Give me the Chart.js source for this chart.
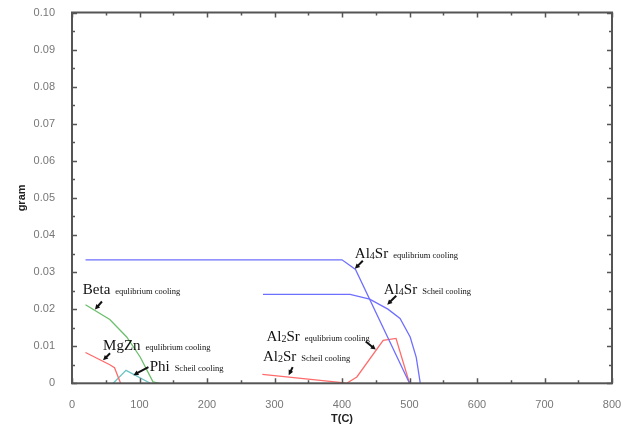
<!DOCTYPE html>
<html>
<head>
<meta charset="utf-8">
<script src="https://cdn.jsdelivr.net/npm/chart.js@4/dist/chart.umd.min.js"></script>
<style>
  html,body{margin:0;padding:0;background:#fff;}
  canvas{display:block;}
</style>
</head>
<body>
<canvas id="chart" width="623" height="432"></canvas>
<script>
// phase amounts (gram) against temperature T(C)
const al4srEqT = [20, 400, 420, 500];
const al4srEqG = [0.0333, 0.0333, 0.0307, 0];
const al4srScT = [283, 412, 441, 468, 486, 501, 510, 516];
const al4srScG = [0.0240, 0.0240, 0.0227, 0.0200, 0.0175, 0.0125, 0.0070, 0];
const al2srScT = [282, 400, 407];
const al2srScG = [0.0024, 0.0002, 0];
const al2srEqT = [407, 422, 461, 480, 500];
const al2srEqG = [0, 0.0017, 0.0116, 0.0121, 0];
const betaT = [20, 56, 81, 101, 120, 130];
const betaG = [0.0212, 0.0172, 0.0125, 0.0071, 0.0004, 0];
const mgznT = [20, 56, 63, 72];
const mgznG = [0.0083, 0.0050, 0.0042, 0];
const phiT = [61, 80, 116];
const phiG = [0, 0.0035, 0];

const xTicks = [0, 100, 200, 300, 400, 500, 600, 700, 800];
const yTicks = [0, 0.01, 0.02, 0.03, 0.04, 0.05, 0.06, 0.07, 0.08, 0.09, 0.10];

const pts = (t, g) => t.map((v, i) => ({x: v, y: g[i]}));

const BLUE = "#6f6fff", RED = "#ff6b6b", GREEN = "#6cbf6c", TEAL = "#6cc4c4";

function line(data, color){
  return {data, borderColor: color, borderWidth: 1.3, pointRadius: 0, tension: 0, fill: false};
}

// labels: big name, optional subscript, rest of name, small note; arrow tip in data space
const notes = [
  {t: 419, g: 0.0337, pre: "Al", sub: "4", post: "Sr", note: "equlibrium cooling", tipT: 419, tipG: 0.0309, dx: 8, dy: -8},
  {t: 462, g: 0.0241, pre: "Al", sub: "4", post: "Sr", note: "Scheil cooling", tipT: 467, tipG: 0.0212, dx: 9, dy: -9},
  {t: 16, g: 0.0240, pre: "Beta", note: "equlibrium cooling", tipT: 34, tipG: 0.0199, dx: 7, dy: -8},
  {t: 46, g: 0.0089, pre: "MgZn", note: "equlibrium cooling", tipT: 46, tipG: 0.0062, dx: 7, dy: -7},
  {t: 115, g: 0.0033, pre: "Phi", note: "Scheil cooling", tipT: 91, tipG: 0.0022, dx: 15, dy: -8},
  {t: 288, g: 0.0114, pre: "Al", sub: "2", post: "Sr", note: "equlibrium cooling", tipT: 450, tipG: 0.0091, dx: -10, dy: -8},
  {t: 283, g: 0.0060, pre: "Al", sub: "2", post: "Sr", note: "Scheil cooling", tipT: 321, tipG: 0.0022, dx: 4, dy: -8}
];

const framePlugin = {
  id: "frame",
  afterDatasetsDraw(chart){
    const {ctx, chartArea: a, scales: {x, y}} = chart;
    ctx.save();
    ctx.strokeStyle = "#555";
    ctx.lineWidth = 1.5;
    // inward ticks on all four sides
    ctx.beginPath();
    for (let v = 0; v <= 800; v += 50) {
      const px = Math.round(x.getPixelForValue(v)) + 0.5;
      const len = v % 100 === 0 ? 5 : 3;
      ctx.moveTo(px, a.bottom); ctx.lineTo(px, a.bottom - len);
      ctx.moveTo(px, a.top); ctx.lineTo(px, a.top + len);
    }
    for (let i = 0; i <= 20; i++) {
      const py = Math.round(y.getPixelForValue(i * 0.005)) + 0.5;
      const len = i % 2 === 0 ? 5 : 3;
      ctx.moveTo(a.left, py); ctx.lineTo(a.left + len, py);
      ctx.moveTo(a.right, py); ctx.lineTo(a.right - len, py);
    }
    ctx.stroke();
    ctx.lineWidth = 2;
    ctx.strokeRect(a.left, a.top, a.right - a.left, a.bottom - a.top);

    // phase labels with arrows
    ctx.fillStyle = "#111";
    ctx.textBaseline = "alphabetic";
    notes.forEach(n => {
      let px = x.getPixelForValue(n.t);
      const py = y.getPixelForValue(n.g);
      ctx.font = "15px 'Liberation Serif', 'Times New Roman', serif";
      ctx.fillText(n.pre, px, py);
      px += ctx.measureText(n.pre).width;
      if (n.sub) {
        ctx.font = "10px 'Liberation Serif', serif";
        ctx.fillText(n.sub, px, py + 1);
        px += ctx.measureText(n.sub).width;
        ctx.font = "15px 'Liberation Serif', 'Times New Roman', serif";
        ctx.fillText(n.post, px, py);
        px += ctx.measureText(n.post).width;
      }
      ctx.font = "8.5px 'Liberation Serif', serif";
      ctx.fillText(n.note, px + 5, py);

      const tx = x.getPixelForValue(n.tipT), ty = y.getPixelForValue(n.tipG);
      const sx = tx + n.dx, sy = ty + n.dy;
      const ang = Math.atan2(ty - sy, tx - sx);
      ctx.strokeStyle = "#111";
      ctx.lineWidth = 2;
      ctx.beginPath();
      ctx.moveTo(sx, sy);
      ctx.lineTo(tx - 3 * Math.cos(ang), ty - 3 * Math.sin(ang));
      ctx.stroke();
      ctx.beginPath();
      ctx.moveTo(tx, ty);
      ctx.lineTo(tx - 5 * Math.cos(ang) + 2.5 * Math.sin(ang), ty - 5 * Math.sin(ang) - 2.5 * Math.cos(ang));
      ctx.lineTo(tx - 5 * Math.cos(ang) - 2.5 * Math.sin(ang), ty - 5 * Math.sin(ang) + 2.5 * Math.cos(ang));
      ctx.closePath();
      ctx.fill();
    });
    ctx.restore();
  }
};

new Chart(document.getElementById("chart").getContext("2d"), {
  type: "line",
  data: {
    datasets: [
      line(pts(al4srEqT, al4srEqG), BLUE),
      line(pts(al4srScT, al4srScG), BLUE),
      line(pts(al2srScT, al2srScG), RED),
      line(pts(al2srEqT, al2srEqG), RED),
      line(pts(betaT, betaG), GREEN),
      line(pts(mgznT, mgznG), RED),
      line(pts(phiT, phiG), TEAL)
    ]
  },
  options: {
    responsive: false,
    animation: false,
    layout: {padding: {top: 12.5, right: 11, left: 0, bottom: 0}},
    plugins: {legend: {display: false}, tooltip: {enabled: false}},
    scales: {
      x: {
        type: "linear", min: 0, max: 800,
        afterBuildTicks: s => { s.ticks = xTicks.map(v => ({value: v})); },
        afterFit: s => { s.height = 48.7; s.paddingLeft = 0; s.paddingRight = 0; },
        grid: {display: false}, border: {display: false},
        ticks: {color: "#777", font: {family: "Arial, 'Liberation Sans'", size: 11}, padding: 7, maxRotation: 0,
                callback: v => String(v)},
        title: {display: true, text: "T(C)", color: "#222",
                font: {family: "Arial, 'Liberation Sans'", size: 11, weight: "bold"}, padding: {top: 0, bottom: 6}}
      },
      y: {
        type: "linear", min: 0, max: 0.1,
        afterBuildTicks: s => { s.ticks = yTicks.map(v => ({value: v})); },
        afterFit: s => { s.width = 72; s.paddingTop = 0; s.paddingBottom = 0; },
        grid: {display: false}, border: {display: false},
        ticks: {color: "#777", font: {family: "Arial, 'Liberation Sans'", size: 11}, padding: 9,
                callback: v => v === 0 ? "0" : v.toFixed(2)},
        title: {display: true, text: "gram", color: "#222",
                font: {family: "Arial, 'Liberation Sans'", size: 11, weight: "bold"}, padding: {top: 15, bottom: 0}}
      }
    }
  },
  plugins: [framePlugin]
});
</script>
</body>
</html>
